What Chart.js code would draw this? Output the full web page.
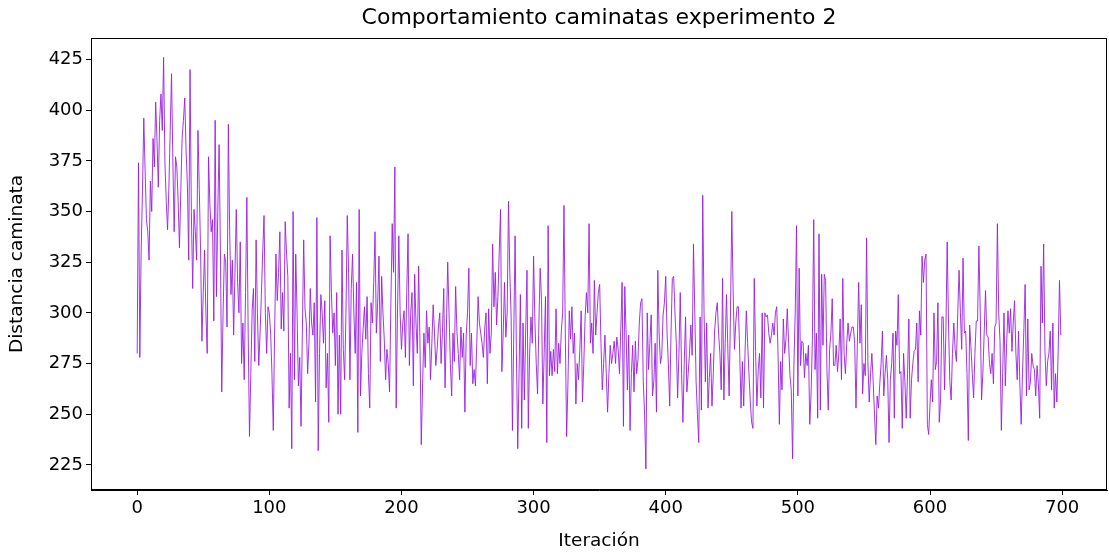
<!DOCTYPE html>
<html>
<head>
<meta charset="utf-8">
<script src="https://cdn.jsdelivr.net/npm/chart.js@4.4.1/dist/chart.umd.min.js"></script>
<style>
  html, body { margin: 0; padding: 0; background: #fff; }
  #wrap { width: 1109px; height: 554px; }
</style>
</head>
<body>
<div id="wrap"><canvas id="chart" width="1109" height="554"></canvas></div>
<script>
const TITLE = 'Comportamiento caminatas experimento 2';
const X_LABEL = 'Iteración';
const Y_LABEL = 'Distancia caminata';
const X_TICKS = [0, 100, 200, 300, 400, 500, 600, 700];
const Y_TICKS = [225, 250, 275, 300, 325, 350, 375, 400, 425];

// distance per iteration (iterations 0..699)
const distances = [
  280, 374, 278, 330, 360, 396, 370, 346, 340, 326,
  365, 350, 386, 372, 404, 385, 362, 395, 408, 390,
  426, 374, 355, 341, 362, 390, 418, 375, 340, 377,
  372, 355, 332, 360, 386, 395, 406, 380, 363, 326,
  420, 350, 312, 351, 340, 326, 390, 361, 330, 286,
  310, 331, 300, 280, 377, 354, 340, 346, 296, 395,
  308, 350, 383, 330, 261, 300, 329, 325, 293, 393,
  340, 309, 326, 289, 320, 351, 315, 300, 335, 275,
  295, 267, 310, 357, 290, 239, 270, 301, 312, 276,
  336, 300, 274, 290, 309, 330, 348, 300, 280, 303,
  300, 290, 270, 242, 290, 329, 306, 320, 340, 292,
  310, 291, 345, 330, 318, 253, 280, 233, 350, 267,
  329, 300, 264, 278, 244, 290, 336, 302, 295, 270,
  285, 312, 295, 289, 305, 256, 347, 232, 280, 309,
  300, 285, 306, 263, 280, 246, 338, 310, 290, 300,
  274, 310, 250, 289, 250, 331, 282, 267, 300, 348,
  320, 267, 312, 329, 300, 280, 315, 241, 351, 259,
  280, 292, 303, 287, 308, 270, 253, 305, 295, 315,
  340, 290, 305, 328, 276, 318, 300, 287, 267, 282,
  275, 261, 305, 344, 320, 372, 253, 300, 338, 300,
  282, 295, 301, 278, 310, 339, 274, 300, 310, 264,
  319, 295, 280, 323, 285, 235, 265, 290, 273, 301,
  285, 293, 267, 285, 304, 290, 274, 282, 293, 300,
  275, 290, 312, 263, 292, 325, 300, 275, 259, 290,
  276, 313, 291, 280, 267, 293, 278, 290, 251, 289,
  300, 322, 274, 290, 265, 272, 264, 285, 308, 295,
  290, 285, 278, 292, 300, 265, 302, 280, 290, 334,
  303, 320, 294, 308, 330, 351, 271, 290, 315, 288,
  300, 355, 320, 298, 242, 290, 338, 280, 233, 270,
  309, 243, 295, 257, 290, 321, 243, 280, 298, 285,
  328, 296, 275, 260, 295, 322, 306, 255, 280, 308,
  236, 343, 269, 281, 269, 282, 271, 302, 270, 285,
  275, 291, 300, 353, 290, 239, 265, 301, 287, 303,
  280, 290, 255, 275, 267, 282, 301, 256, 275, 298,
  310, 300, 344, 285, 295, 280, 316, 289, 300, 310,
  314, 285, 262, 275, 289, 270, 251, 270, 284, 275,
  280, 286, 275, 288, 282, 270, 292, 315, 244, 313,
  290, 262, 289, 242, 270, 284, 261, 286, 270, 277,
  295, 305, 307, 266, 250, 223, 300, 272, 285, 299,
  259, 266, 285, 251, 321, 290, 275, 279, 299, 305,
  318, 290, 275, 254, 290, 317, 318, 300, 285, 258,
  280, 310, 270, 246, 275, 298, 261, 270, 280, 294,
  279, 334, 300, 266, 250, 236, 298, 252, 358, 300,
  266, 295, 253, 268, 280, 254, 270, 291, 300, 305,
  290, 280, 262, 317, 257, 285, 309, 282, 259, 300,
  350, 311, 282, 295, 303, 303, 280, 253, 276, 254,
  280, 301, 285, 270, 256, 246, 243, 317, 281, 254,
  272, 280, 258, 300, 253, 300, 298, 299, 290, 285,
  289, 295, 289, 300, 303, 280, 245, 276, 262, 297,
  280, 287, 302, 285, 269, 262, 228, 274, 300, 343,
  259, 322, 274, 286, 285, 268, 280, 274, 284, 245,
  260, 287, 346, 272, 290, 248, 339, 252, 319, 284,
  319, 316, 272, 252, 282, 290, 307, 274, 274, 284,
  271, 280, 297, 267, 317, 280, 270, 285, 295, 286,
  290, 293, 293, 285, 253, 284, 315, 285, 304, 260,
  275, 269, 337, 276, 256, 270, 280, 266, 250, 235,
  259, 253, 265, 275, 291, 259, 270, 279, 267, 236,
  267, 275, 290, 248, 291, 284, 309, 270, 271, 243,
  280, 266, 248, 270, 297, 248, 267, 275, 281, 282,
  295, 266, 301, 289, 328, 315, 326, 329, 245, 240,
  255, 267, 256, 300, 272, 276, 305, 246, 257, 298,
  298, 262, 290, 335, 295, 266, 257, 280, 295, 282,
  276, 300, 321, 300, 282, 327, 290, 291, 270, 237,
  294, 283, 270, 258, 280, 296, 296, 333, 301, 257,
  270, 290, 311, 289, 288, 275, 270, 280, 265, 293,
  295, 344, 300, 286, 242, 270, 300, 264, 285, 301,
  290, 302, 281, 295, 306, 280, 267, 291, 265, 245,
  270, 291, 314, 259, 297, 262, 266, 280, 274, 272,
  259, 274, 265, 248, 323, 295, 334, 281, 264, 276,
  280, 291, 262, 295, 253, 270, 256, 281, 316, 289
];

const FONT = 'DejaVu Sans';
const TICK_FONT = { family: FONT, size: 18 };
const LABEL_FONT = { family: FONT, size: 18.5 };

// matplotlib-style full frame around the axes, title centred over the axes
const frame = {
  id: 'frame',
  afterDraw(chart) {
    const { ctx, chartArea: a } = chart;
    ctx.save();
    ctx.strokeStyle = '#000';
    ctx.lineWidth = 1;
    ctx.strokeRect(a.left + 0.5, a.top + 0.5, a.right - a.left - 1, a.bottom - a.top - 1);
    ctx.fillStyle = '#000';
    ctx.font = `22px "${FONT}"`;
    ctx.textAlign = 'center';
    ctx.textBaseline = 'middle';
    ctx.fillText(TITLE, (a.left + a.right) / 2, 18);
    ctx.restore();
  }
};

new Chart(document.getElementById('chart'), {
  type: 'line',
  data: {
    datasets: [{
      data: distances.map((d, i) => ({ x: i, y: d })),
      borderColor: '#9a1fe0',
      borderWidth: 0.9,
      pointRadius: 0,
      tension: 0,
      fill: false
    }]
  },
  options: {
    responsive: false,
    animation: false,
    layout: { padding: { top: 38, right: 2, left: 0, bottom: 0 } },
    plugins: { legend: { display: false }, tooltip: { enabled: false } },
    scales: {
      x: {
        type: 'linear',
        min: -34.95, max: 733.95,
        afterBuildTicks: s => { s.ticks = X_TICKS.map(v => ({ value: v })); },
        afterFit: s => { s.height = 64; },
        ticks: { color: '#000', font: TICK_FONT, padding: 3, maxRotation: 0 },
        grid: { drawOnChartArea: false, drawTicks: true, tickLength: 5, color: '#000' },
        border: { display: true, color: '#000', width: 1 },
        title: { display: true, text: X_LABEL, color: '#000', font: LABEL_FONT, padding: { top: 0, bottom: 2 } }
      },
      y: {
        min: 212.6, max: 435.6,
        afterBuildTicks: s => { s.ticks = Y_TICKS.map(v => ({ value: v })); },
        afterFit: s => { s.width = 91; },
        ticks: { color: '#000', font: TICK_FONT, padding: 3 },
        grid: { drawOnChartArea: false, drawTicks: true, tickLength: 5, color: '#000' },
        border: { display: true, color: '#000', width: 1 },
        title: { display: true, text: Y_LABEL, color: '#000', font: LABEL_FONT, padding: { top: 6, bottom: 0 } }
      }
    }
  },
  plugins: [frame]
});
</script>
</body>
</html>
